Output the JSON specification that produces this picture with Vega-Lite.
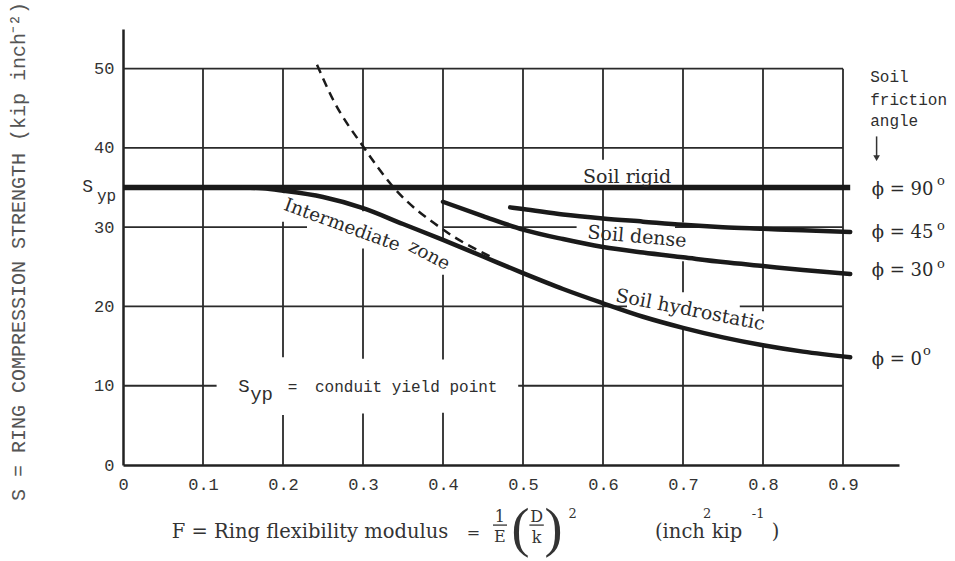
{
  "$schema": "https://vega.github.io/schema/vega-lite/v6.json",
  "width": 776,
  "height": 436,
  "autosize": {"type": "none"},
  "padding": {"left": 123, "top": 29, "right": 56, "bottom": 96},
  "background": "white",
  "config": {"view": {"stroke": null}},
  "datasets": {
    "grid": [
      {"x": 0.1, "x2": 0.1, "y": 0, "y2": 50},
      {"x": 0.2, "x2": 0.2, "y": 0, "y2": 6.3},
      {"x": 0.2, "x2": 0.2, "y": 13.6, "y2": 30.7},
      {"x": 0.2, "x2": 0.2, "y": 34.5, "y2": 50},
      {"x": 0.3, "x2": 0.3, "y": 0, "y2": 6.5},
      {"x": 0.3, "x2": 0.3, "y": 13.4, "y2": 27.3},
      {"x": 0.3, "x2": 0.3, "y": 32, "y2": 50},
      {"x": 0.4, "x2": 0.4, "y": 0, "y2": 6.6},
      {"x": 0.4, "x2": 0.4, "y": 13.3, "y2": 24},
      {"x": 0.4, "x2": 0.4, "y": 28.4, "y2": 50},
      {"x": 0.5, "x2": 0.5, "y": 0, "y2": 50},
      {"x": 0.6, "x2": 0.6, "y": 0, "y2": 35},
      {"x": 0.6, "x2": 0.6, "y": 38.5, "y2": 50},
      {"x": 0.7, "x2": 0.7, "y": 0, "y2": 17.4},
      {"x": 0.7, "x2": 0.7, "y": 21.8, "y2": 25.7},
      {"x": 0.7, "x2": 0.7, "y": 30.6, "y2": 50},
      {"x": 0.8, "x2": 0.8, "y": 0, "y2": 15.4},
      {"x": 0.8, "x2": 0.8, "y": 19.4, "y2": 50},
      {"x": 0.9, "x2": 0.9, "y": 0, "y2": 50},
      {"x": 0, "x2": 0.9, "y": 50, "y2": 50},
      {"x": 0, "x2": 0.9, "y": 40, "y2": 40},
      {"x": 0, "x2": 0.23, "y": 30, "y2": 30},
      {"x": 0.4, "x2": 0.567, "y": 30, "y2": 30},
      {"x": 0.69, "x2": 0.9, "y": 30, "y2": 30},
      {"x": 0, "x2": 0.63, "y": 20, "y2": 20},
      {"x": 0.771, "x2": 0.9, "y": 20, "y2": 20},
      {"x": 0, "x2": 0.117, "y": 10, "y2": 10},
      {"x": 0.494, "x2": 0.9, "y": 10, "y2": 10}
    ],
    "rigid": [
      {"s": "Soil rigid", "x": 0, "y": 35},
      {"s": "Soil rigid", "x": 0.909, "y": 35}
    ],
    "curves": [
      {"s": "Soil hydrostatic", "x": 0.15, "y": 35},
      {"s": "Soil hydrostatic", "x": 0.175, "y": 34.9},
      {"s": "Soil hydrostatic", "x": 0.2, "y": 34.6},
      {"s": "Soil hydrostatic", "x": 0.25, "y": 33.8},
      {"s": "Soil hydrostatic", "x": 0.3, "y": 32.4},
      {"s": "Soil hydrostatic", "x": 0.35, "y": 30.4},
      {"s": "Soil hydrostatic", "x": 0.4, "y": 28.4},
      {"s": "Soil hydrostatic", "x": 0.45, "y": 26.3},
      {"s": "Soil hydrostatic", "x": 0.5, "y": 24.2},
      {"s": "Soil hydrostatic", "x": 0.55, "y": 22.2},
      {"s": "Soil hydrostatic", "x": 0.6, "y": 20.4},
      {"s": "Soil hydrostatic", "x": 0.65, "y": 18.7},
      {"s": "Soil hydrostatic", "x": 0.7, "y": 17.3},
      {"s": "Soil hydrostatic", "x": 0.75, "y": 16.1},
      {"s": "Soil hydrostatic", "x": 0.8, "y": 15.1},
      {"s": "Soil hydrostatic", "x": 0.85, "y": 14.3},
      {"s": "Soil hydrostatic", "x": 0.909, "y": 13.6},
      {"s": "Soil dense 30", "x": 0.4, "y": 33.2},
      {"s": "Soil dense 30", "x": 0.45, "y": 31.4},
      {"s": "Soil dense 30", "x": 0.5, "y": 29.7},
      {"s": "Soil dense 30", "x": 0.55, "y": 28.5},
      {"s": "Soil dense 30", "x": 0.6, "y": 27.5},
      {"s": "Soil dense 30", "x": 0.65, "y": 26.8},
      {"s": "Soil dense 30", "x": 0.7, "y": 26.2},
      {"s": "Soil dense 30", "x": 0.75, "y": 25.6},
      {"s": "Soil dense 30", "x": 0.8, "y": 25.1},
      {"s": "Soil dense 30", "x": 0.85, "y": 24.6},
      {"s": "Soil dense 30", "x": 0.909, "y": 24.1},
      {"s": "Soil dense 45", "x": 0.484, "y": 32.5},
      {"s": "Soil dense 45", "x": 0.5, "y": 32.3},
      {"s": "Soil dense 45", "x": 0.55, "y": 31.6},
      {"s": "Soil dense 45", "x": 0.6, "y": 31.1},
      {"s": "Soil dense 45", "x": 0.65, "y": 30.7},
      {"s": "Soil dense 45", "x": 0.7, "y": 30.3},
      {"s": "Soil dense 45", "x": 0.75, "y": 30.0},
      {"s": "Soil dense 45", "x": 0.8, "y": 29.8},
      {"s": "Soil dense 45", "x": 0.85, "y": 29.6},
      {"s": "Soil dense 45", "x": 0.909, "y": 29.4}
    ],
    "dashed": [
      {"x": 0.2425, "y": 50.5},
      {"x": 0.2625, "y": 46.1},
      {"x": 0.3, "y": 40.2},
      {"x": 0.3375, "y": 35.1},
      {"x": 0.4, "y": 29.7},
      {"x": 0.459, "y": 26.3}
    ],
    "arrow": [{"x": 0.942, "y": 41.45, "y2": 38.8}],
    "arrowHead": [{"x": 0.942, "y": 38.7}],
    "mono16": [
      {"t": "Soil", "x": 0.934, "y": 48.36},
      {"t": "friction", "x": 0.934, "y": 45.45},
      {"t": "angle", "x": 0.934, "y": 42.8},
      {"t": "=", "x": 0.206, "y": 9.2},
      {"t": "conduit yield point", "x": 0.24, "y": 9.2},
      {"t": "yp", "x": -0.0325, "y": 33.3}
    ],
    "monoS": [
      {"t": "S", "x": -0.051, "y": 34.47}
    ],
    "mono19": [
      {"t": "S", "x": 0.144, "y": 9.2},
      {"t": "yp", "x": 0.159, "y": 8.2}
    ],
    "rigidLabel": [
      {"t": "Soil rigid", "x": 0.575, "y": 35.6}
    ],
    "phi": [
      {"t": "ϕ = 90", "x": 0.936, "y": 34.1},
      {"t": "ϕ = 45", "x": 0.936, "y": 28.66},
      {"t": "ϕ = 30", "x": 0.936, "y": 23.9},
      {"t": "ϕ = 0", "x": 0.936, "y": 12.63}
    ],
    "deg": [
      {"t": "o", "x": 1.0225, "y": 35.35},
      {"t": "o", "x": 1.0225, "y": 29.67},
      {"t": "o", "x": 1.0225, "y": 24.9},
      {"t": "o", "x": 1.005, "y": 13.89}
    ],
    "dense": [{"t": "Soil dense", "x": 0.6425, "y": 28.8}],
    "hydro": [{"t": "Soil hydrostatic", "x": 0.709, "y": 19.57}],
    "inter": [{"t": "Intermediate", "x": 0.274, "y": 30.3}],
    "zone": [{"t": "zone", "x": 0.383, "y": 26.5}],
    "xtitleL": [
      {"t": "F = Ring flexibility modulus", "x": 0.061, "y": -9.2},
      {"t": "(inch", "x": 0.665, "y": -9.2},
      {"t": "kip", "x": 0.736, "y": -9.2},
      {"t": ")", "x": 0.811, "y": -9.2}
    ],
    "xtitleC": [
      {"t": "=", "x": 0.438, "y": -9.2},
      {"t": "1", "x": 0.471, "y": -7.2},
      {"t": "E", "x": 0.471, "y": -9.72},
      {"t": "D", "x": 0.517, "y": -7.2},
      {"t": "k", "x": 0.517, "y": -9.85}
    ],
    "xsup": [
      {"t": "2", "x": 0.557, "y": -6.7},
      {"t": "2", "x": 0.725, "y": -6.7},
      {"t": "-1", "x": 0.786, "y": -6.7}
    ],
    "parens": [
      {"t": "(", "x": 0.497, "y": -8.2},
      {"t": ")", "x": 0.538, "y": -8.2}
    ],
    "bars": [
      {"x": 0.4625, "x2": 0.48, "y": -7.58},
      {"x": 0.508, "x2": 0.526, "y": -7.58}
    ]
  },
  "encoding": {
    "x": {
      "field": "x",
      "type": "quantitative",
      "scale": {"domain": [0, 0.97], "nice": false, "zero": false},
      "axis": {
        "values": [0, 0.1, 0.2, 0.3, 0.4, 0.5, 0.6, 0.7, 0.8, 0.9],
        "labelExpr": "datum.value === 0 ? '0' : format(datum.value, '.1f')",
        "title": null,
        "grid": false,
        "ticks": false,
        "tickSize": 0,
        "domainColor": "#222",
        "domainWidth": 2.5,
        "labelFont": "Liberation Mono",
        "labelFontSize": 17,
        "labelColor": "#333",
        "labelPadding": 11,
        "labelFlush": false,
        "labelOverlap": false
      }
    },
    "y": {
      "field": "y",
      "type": "quantitative",
      "scale": {"domain": [0, 55], "nice": false, "zero": false},
      "axis": {
        "values": [0, 10, 20, 30, 40, 50],
        "title": "S = RING COMPRESSION STRENGTH (kip inch⁻²)",
        "grid": false,
        "ticks": false,
        "tickSize": 0,
        "domainColor": "#222",
        "domainWidth": 2.5,
        "labelFont": "Liberation Mono",
        "labelFontSize": 17,
        "labelColor": "#333",
        "labelPadding": 9,
        "labelBaseline": "middle",
        "labelFlush": false,
        "labelOverlap": false,
        "titleFont": "Liberation Mono",
        "titleFontSize": 20,
        "titleFontWeight": "normal",
        "titleColor": "#555",
        "titleAngle": -90,
        "titleX": -105,
        "titleY": 222,
        "titleAlign": "center",
        "titleBaseline": "middle"
      }
    }
  },
  "layer": [
    {
      "data": {"name": "grid"},
      "mark": {"type": "rule", "color": "#2a2a2a", "strokeWidth": 1.8},
      "encoding": {"x2": {"field": "x2"}, "y2": {"field": "y2"}}
    },
    {
      "data": {"name": "rigid"},
      "mark": {"type": "line", "color": "#1a1a1a", "strokeWidth": 5.5, "strokeCap": "butt"},
      "encoding": {"detail": {"field": "s"}}
    },
    {
      "data": {"name": "curves"},
      "mark": {"type": "line", "color": "#1a1a1a", "strokeWidth": 4.5, "interpolate": "monotone", "strokeCap": "round"},
      "encoding": {"detail": {"field": "s"}}
    },
    {
      "data": {"name": "dashed"},
      "mark": {"type": "line", "color": "#1a1a1a", "strokeWidth": 2.5, "interpolate": "monotone", "strokeDash": [9, 6]},
      "encoding": {}
    },
    {
      "data": {"name": "arrow"},
      "mark": {"type": "rule", "color": "#333", "strokeWidth": 1.5, "clip": false},
      "encoding": {"y2": {"field": "y2"}}
    },
    {
      "data": {"name": "arrowHead"},
      "mark": {"type": "point", "shape": "triangle-down", "filled": true, "color": "#333", "size": 45, "opacity": 1, "clip": false},
      "encoding": {}
    },
    {
      "data": {"name": "mono16"},
      "mark": {"type": "text", "font": "Liberation Mono", "fontSize": 16, "color": "#2e2e2e", "align": "left", "baseline": "alphabetic", "clip": false},
      "encoding": {"text": {"field": "t"}}
    },
    {
      "data": {"name": "monoS"},
      "mark": {"type": "text", "font": "Liberation Mono", "fontSize": 18, "color": "#2e2e2e", "align": "left", "baseline": "alphabetic", "clip": false},
      "encoding": {"text": {"field": "t"}}
    },
    {
      "data": {"name": "mono19"},
      "mark": {"type": "text", "font": "Liberation Mono", "fontSize": 19, "color": "#2e2e2e", "align": "left", "baseline": "alphabetic", "clip": false},
      "encoding": {"text": {"field": "t"}}
    },
    {
      "data": {"name": "rigidLabel"},
      "mark": {"type": "text", "font": "DejaVu Serif", "fontSize": 19, "color": "#2a2a2a", "align": "left", "baseline": "alphabetic", "clip": false},
      "encoding": {"text": {"field": "t"}}
    },
    {
      "data": {"name": "phi"},
      "mark": {"type": "text", "font": "DejaVu Serif", "fontSize": 18, "color": "#2a2a2a", "align": "left", "baseline": "alphabetic", "clip": false},
      "encoding": {"text": {"field": "t"}}
    },
    {
      "data": {"name": "deg"},
      "mark": {"type": "text", "font": "DejaVu Serif", "fontSize": 13, "color": "#2a2a2a", "align": "center", "baseline": "alphabetic", "clip": false},
      "encoding": {"text": {"field": "t"}}
    },
    {
      "data": {"name": "dense"},
      "mark": {"type": "text", "font": "DejaVu Serif", "fontSize": 19, "color": "#2a2a2a", "align": "center", "baseline": "middle", "angle": 5, "clip": false},
      "encoding": {"text": {"field": "t"}}
    },
    {
      "data": {"name": "hydro"},
      "mark": {"type": "text", "font": "DejaVu Serif", "fontSize": 19, "color": "#2a2a2a", "align": "center", "baseline": "middle", "angle": 11, "clip": false},
      "encoding": {"text": {"field": "t"}}
    },
    {
      "data": {"name": "inter"},
      "mark": {"type": "text", "font": "DejaVu Serif", "fontSize": 18.5, "color": "#2a2a2a", "align": "center", "baseline": "middle", "angle": 20, "clip": false},
      "encoding": {"text": {"field": "t"}}
    },
    {
      "data": {"name": "zone"},
      "mark": {"type": "text", "font": "DejaVu Serif", "fontSize": 18.5, "color": "#2a2a2a", "align": "center", "baseline": "middle", "angle": 28, "clip": false},
      "encoding": {"text": {"field": "t"}}
    },
    {
      "data": {"name": "xtitleL"},
      "mark": {"type": "text", "font": "DejaVu Serif", "fontSize": 19.5, "color": "#333", "align": "left", "baseline": "alphabetic", "clip": false},
      "encoding": {"text": {"field": "t"}}
    },
    {
      "data": {"name": "xtitleC"},
      "mark": {"type": "text", "font": "DejaVu Serif", "fontSize": 16, "color": "#333", "align": "center", "baseline": "alphabetic", "clip": false},
      "encoding": {"text": {"field": "t"}}
    },
    {
      "data": {"name": "xsup"},
      "mark": {"type": "text", "font": "DejaVu Serif", "fontSize": 13, "color": "#333", "align": "left", "baseline": "alphabetic", "clip": false},
      "encoding": {"text": {"field": "t"}}
    },
    {
      "data": {"name": "parens"},
      "mark": {"type": "text", "font": "Liberation Serif", "fontSize": 54, "color": "#333", "align": "center", "baseline": "middle", "clip": false},
      "encoding": {"text": {"field": "t"}}
    },
    {
      "data": {"name": "bars"},
      "mark": {"type": "rule", "color": "#333", "strokeWidth": 1.3, "clip": false},
      "encoding": {"x2": {"field": "x2"}}
    }
  ]
}
